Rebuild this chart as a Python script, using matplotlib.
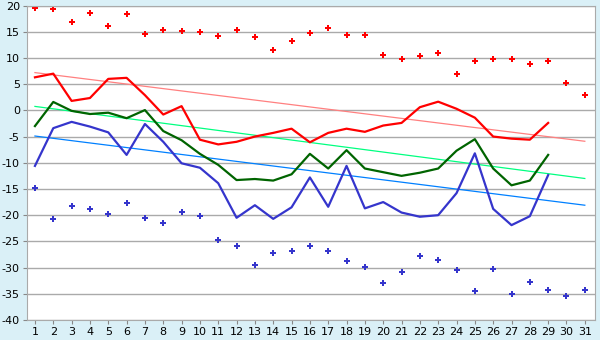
import matplotlib.pyplot as plt
import numpy as np

days = np.arange(1, 32)

# daily extremes (scatter)
high_pts = [19.5, 19.3, 16.8, 18.5, 16.0, 18.3, 14.5, 15.3, 15.1, 14.9,
            14.1, 15.3, 13.9, 11.6, 13.2, 14.7, 15.8, 14.3, 14.3, 10.5,
            9.7, 10.3, 10.9, 6.9, 9.35, 9.7, 9.7, 8.8, 9.5, 5.15, 2.9]
low_pts = [-14.9, -20.8, -18.3, -18.9, -19.7, -17.7, -20.6, -21.4, -19.3, -20.2,
           -24.8, -25.8, -29.6, -27.3, -26.9, -25.8, -26.9, -28.8, -29.8, -33.0,
           -30.9, -27.7, -28.6, -30.5, -34.5, -30.2, -35.1, -32.8, -34.2, -35.5, -34.3]

# daily series (days 1..29)
red_line = [6.3, 7.0, 1.8, 2.35, 6.0, 6.2, 2.9, -0.8, 0.8, -5.6,
            -6.5, -6.0, -5.0, -4.3, -3.5, -6.1, -4.3, -3.5, -4.1, -2.9,
            -2.4, 0.6, 1.65, 0.3, -1.4, -5.0, -5.4, -5.6, -2.4]
green_line = [-3.0, 1.6, -0.1, -0.7, -0.45, -1.5, 0.05, -3.95, -5.7, -8.3,
              -10.4, -13.3, -13.1, -13.4, -12.2, -8.3, -11.1, -7.6, -11.1, -11.8,
              -12.5, -11.9, -11.1, -7.7, -5.5, -11.1, -14.3, -13.4, -8.5]
blue_line = [-10.6, -3.4, -2.2, -3.1, -4.2, -8.5, -2.6, -6.0, -10.1, -10.95,
             -13.9, -20.5, -18.1, -20.7, -18.5, -12.8, -18.4, -10.6, -18.7, -17.5,
             -19.5, -20.3, -20.0, -15.8, -8.2, -18.8, -21.9, -20.2, -12.35]

# trend lines: value at day 1 and day 31
trend_days = [1, 31]
red_trend = [7.2, -5.9]
green_trend = [0.75, -13.0]
blue_trend = [-4.9, -18.1]

y_ticks = np.arange(-40, 21, 5)

plt.rcParams['axes.unicode_minus'] = False

fig = plt.figure(figsize=(6, 3.4), dpi=100, facecolor='#daf0f7')
ax = fig.add_axes([0.0445, 0.0588, 0.947, 0.925])
ax.set_facecolor('white')

ax.plot(trend_days, red_trend, color='#ff8080', lw=0.9)
ax.plot(trend_days, green_trend, color='#00ff80', lw=0.9)
ax.plot(trend_days, blue_trend, color='#0080ff', lw=0.9)

n = len(red_line)
ax.plot(days[:n], red_line, color='#ff0000', lw=1.6)
ax.plot(days[:n], green_line, color='#006400', lw=1.6)
ax.plot(days[:n], blue_line, color='#3535cc', lw=1.6)

ax.scatter(days, high_pts, marker='P', s=20, color='#ff0000', linewidths=0)
ax.scatter(days, low_pts, marker='P', s=20, color='#3535cc', linewidths=0)

ax.set_xlim(0.55, 31.55)
ax.set_ylim(-40, 20)
ax.set_xticks(days)
ax.set_yticks(y_ticks)
ax.yaxis.grid(True, color='#aaaaaa', lw=1)
ax.set_axisbelow(True)
ax.tick_params(labelsize=8, length=3, color='#888888', pad=2)
for s in ax.spines.values():
    s.set_color('#aaaaaa')

fig.savefig('out.png', dpi=100, facecolor=fig.get_facecolor())
